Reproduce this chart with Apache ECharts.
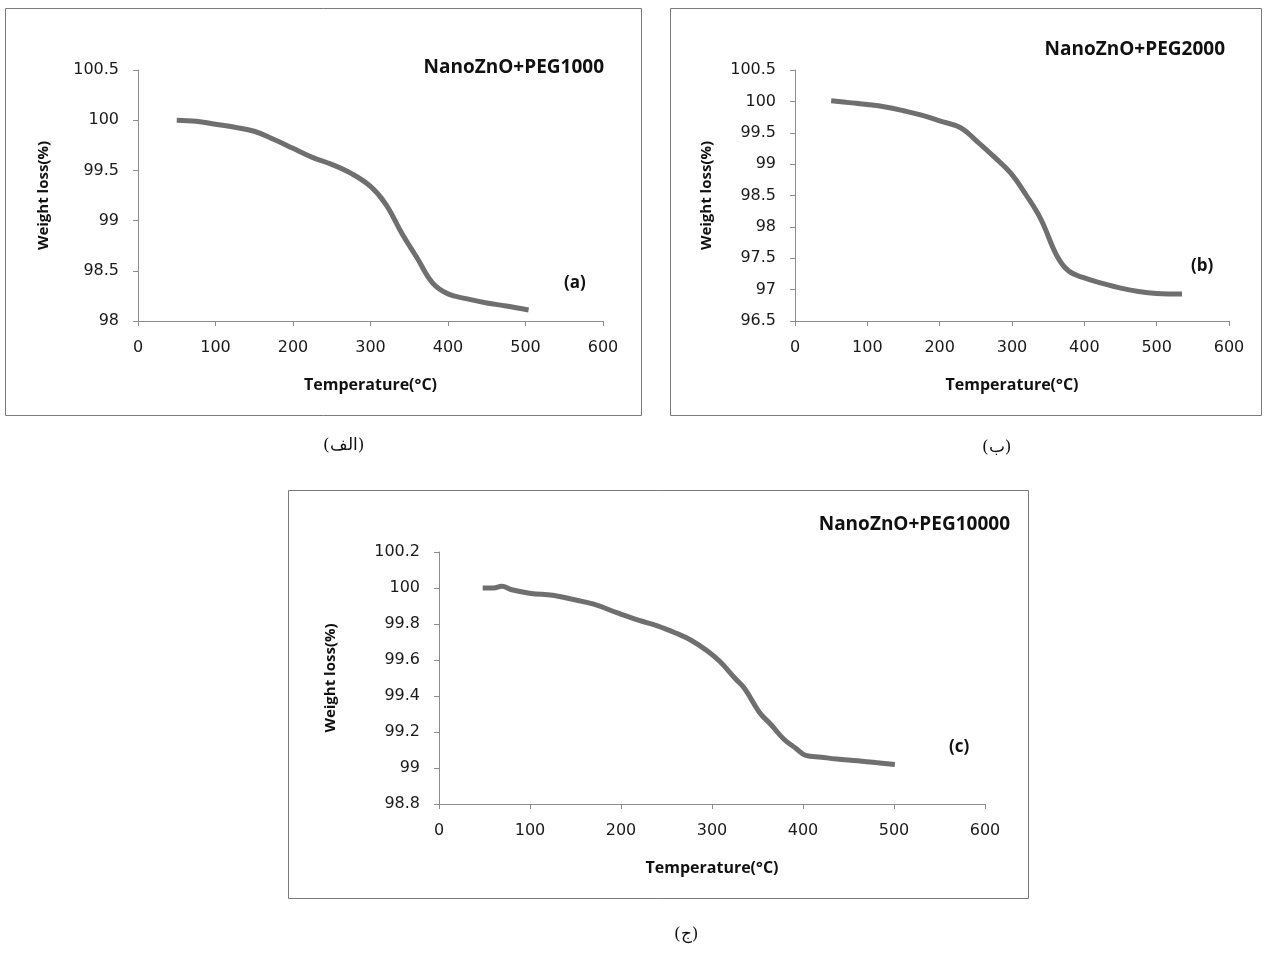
<!DOCTYPE html>
<html><head><meta charset="utf-8">
<script src="https://cdn.jsdelivr.net/npm/echarts@6/dist/echarts.min.js"></script>
<style>html,body{margin:0;padding:0;background:#fff}#c{width:1264px;height:954px}</style>
</head><body><div id="c"></div>
<script>
const xTicks = [0, 100, 200, 300, 400, 500, 600];
const tempA   = [50, 75, 100, 125, 150, 175, 200, 225, 250, 275, 300, 320, 340, 360, 380, 400, 425, 450, 475, 504];
const weightA = [100.0, 99.99, 99.96, 99.93, 99.89, 99.81, 99.72, 99.63, 99.56, 99.47, 99.34, 99.16, 98.88, 98.63, 98.38, 98.27, 98.22, 98.18, 98.15, 98.11];
const tempB   = [50, 75, 100, 125, 150, 175, 200, 229, 250, 275, 298, 320, 340, 362, 378, 399, 425, 452, 475, 500, 535];
const weightB = [100.01, 99.98, 99.95, 99.91, 99.85, 99.78, 99.69, 99.58, 99.38, 99.12, 98.86, 98.5, 98.12, 97.54, 97.3, 97.19, 97.1, 97.02, 96.97, 96.94, 96.93];
const tempC   = [48, 60, 69, 80, 101, 125, 144, 170, 197, 220, 240, 260, 277, 295, 309, 325, 336, 352, 365, 379, 392, 403, 420, 437, 460, 480, 501];
const weightC = [100.0, 100.0, 100.01, 99.99, 99.97, 99.96, 99.94, 99.91, 99.86, 99.82, 99.79, 99.75, 99.71, 99.65, 99.59, 99.5, 99.44, 99.31, 99.24, 99.16, 99.11, 99.07, 99.06, 99.05, 99.04, 99.03, 99.02];

const chart = echarts.init(document.getElementById('c'));
const lineColor = '#6f6f6f';
const axisGray = '#8c8c8c';
const tickFont = {fontFamily: 'DejaVu Sans, Arial', fontSize: 16, color: '#1a1a1a'};
const nameFont = {fontFamily: 'Open Sans, Lato, sans-serif', fontWeight: 'bold', fontSize: 15, color: '#111'};

function xAxis(gi){
  return {type:'value', gridIndex:gi, min:0, max:600, interval:100,
    name:'Temperature(°C)', nameLocation:'middle', nameGap:56, nameTextStyle:{...nameFont, fontSize:16},
    axisLine:{show:true, lineStyle:{color:axisGray}}, axisTick:{show:true, length:5, lineStyle:{color:axisGray}},
    axisLabel:{...tickFont, margin:19}, splitLine:{show:false}};
}
function yAxis(gi, min, max, interval, gap){
  return {type:'value', gridIndex:gi, min:min, max:max, interval:interval,
    name:'Weight loss(%)', nameLocation:'middle', nameGap:gap, nameTextStyle:nameFont,
    axisLine:{show:true, lineStyle:{color:axisGray}}, axisTick:{show:true, length:5, lineStyle:{color:axisGray}},
    axisLabel:{...tickFont, margin:19, formatter: v => String(Math.round(v*10)/10)}, splitLine:{show:false}};
}
function pairs(xs, ys){ return xs.map((x,i)=>[x, ys[i]]); }
function series(gi, xs, ys){
  return {type:'line', xAxisIndex:gi, yAxisIndex:gi, data:pairs(xs, ys), smooth:0.4, showSymbol:false,
    lineStyle:{color:lineColor, width:5}, silent:true, animation:false};
}
const titleStyle = {fontFamily:'Open Sans, Lato, sans-serif', fontWeight:'bold', fontSize:19, fill:'#111'};
const capStyle = {fontFamily:'DejaVu Serif, Noto Sans, serif', fontSize:17, fill:'#111'};

chart.setOption({
  backgroundColor:'#fff',
  animation:false,
  grid:[
    {left:138, top:70, width:465, height:251},
    {left:795, top:70, width:434, height:251},
    {left:439, top:552, width:546, height:252}
  ],
  xAxis:[xAxis(0), xAxis(1), xAxis(2)],
  yAxis:[yAxis(0, 98, 100.5, 0.5, 87), yAxis(1, 96.5, 100.5, 0.5, 81), yAxis(2, 98.8, 100.2, 0.2, 101)],
  series:[series(0,tempA,weightA), series(1,tempB,weightB), series(2,tempC,weightC)],
  graphic:[
    {type:'rect', shape:{x:5.5, y:8.5, width:636, height:407}, style:{fill:'none', stroke:'#7a7a7a', lineWidth:1}},
    {type:'rect', shape:{x:670.5, y:8.5, width:591, height:407}, style:{fill:'none', stroke:'#7a7a7a', lineWidth:1}},
    {type:'rect', shape:{x:288.5, y:490.5, width:740, height:408}, style:{fill:'none', stroke:'#7a7a7a', lineWidth:1}},
    {type:'text', right:1264-604, top:58, style:{text:'NanoZnO+PEG1000', ...titleStyle}},
    {type:'text', right:1264-1225, top:40, style:{text:'NanoZnO+PEG2000', ...titleStyle}},
    {type:'text', right:1264-1010, top:515, style:{text:'NanoZnO+PEG10000', ...titleStyle}},
    {type:'text', left:564, top:275, style:{text:'(a)', ...titleStyle, fontSize:17}},
    {type:'text', left:1191, top:258, style:{text:'(b)', ...titleStyle, fontSize:17}},
    {type:'text', left:949, top:739, style:{text:'(c)', ...titleStyle, fontSize:17}},
    {type:'text', left:323, top:437, style:{text:'(الف)', ...capStyle}},
    {type:'text', left:982, top:439, style:{text:'(ب)', ...capStyle}},
    {type:'text', left:674, top:926, style:{text:'(ج)', ...capStyle}}
  ]
});
</script></body></html>
